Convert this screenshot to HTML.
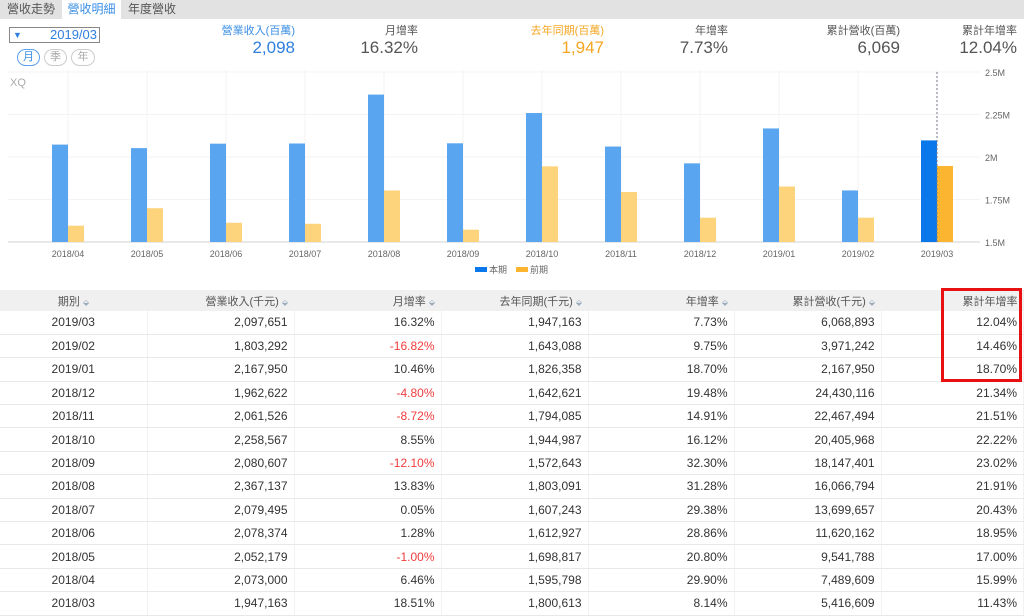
<!DOCTYPE html>
<html><head><meta charset="utf-8">
<style>
*{margin:0;padding:0;box-sizing:border-box}
body{width:1024px;height:610px;overflow:hidden;background:#fff;font-family:"Liberation Sans","Noto Sans CJK TC",sans-serif;color:#444;position:relative}
.abs{position:absolute}
.tabs{left:0;top:0;width:1024px;height:19px;background:#e2e2e2}
.tab{top:0;height:19px;font-size:12px;line-height:19px;color:#555;text-align:center}
.sum{text-align:right}
.sum .l{font-size:11px;color:#555}
.sum .v{font-size:17px;color:#555;line-height:20px}
table{position:absolute;left:0;top:290px;width:1024px;border-collapse:collapse;font-size:12px}
th{height:21px;background:#f0f0f0;font-weight:normal;color:#555;text-align:right;padding-right:6px;font-size:11px}
td{height:23.4px;text-align:right;padding-right:6px;border-bottom:1px solid #e8e8e8;border-right:1px solid #f2f2f2;color:#333}
td:first-child,th:first-child{text-align:center;padding-right:0}
.neg{color:#f03c3c}
.ar{color:#9ab;font-size:8px}
</style></head><body>
<div class="abs tabs"></div>
<div class="abs tab" style="left:0;width:62px">營收走勢</div>
<div class="abs tab" style="left:62px;width:59px;background:#fff;color:#3a8ee6">營收明細</div>
<div class="abs tab" style="left:121px;width:62px">年度營收</div>
<div class="abs" style="left:9px;top:27px;width:91px;height:16px;border:1px solid #888;font-size:13px;color:#2f7fe0;line-height:14px;text-align:right;padding-right:2px"><span style="position:absolute;left:3px;font-size:9px">▼</span>2019/03</div>
<div class="abs" style="left:17px;top:49px;width:23px;height:17px;border:1px solid #5aa0ee;border-radius:9px;font-size:11px;text-align:center;line-height:15px;color:#3a8ee6">月</div>
<div class="abs" style="left:44px;top:49px;width:23px;height:17px;border:1px solid #ccc;border-radius:9px;font-size:11px;text-align:center;line-height:15px;color:#aaa">季</div>
<div class="abs" style="left:71px;top:49px;width:24px;height:17px;border:1px solid #ccc;border-radius:9px;font-size:11px;text-align:center;line-height:15px;color:#aaa">年</div>

<div class="abs sum" style="left:195px;top:22px;width:100px"><div class="l" style="color:#3a8ee6">營業收入(百萬)</div><div class="v" style="color:#2f7fe0">2,098</div></div>
<div class="abs sum" style="left:318px;top:22px;width:100px"><div class="l">月增率</div><div class="v">16.32%</div></div>
<div class="abs sum" style="left:504px;top:22px;width:100px"><div class="l" style="color:#f5a623">去年同期(百萬)</div><div class="v" style="color:#f5a623">1,947</div></div>
<div class="abs sum" style="left:628px;top:22px;width:100px"><div class="l">年增率</div><div class="v">7.73%</div></div>
<div class="abs sum" style="left:800px;top:22px;width:100px"><div class="l">累計營收(百萬)</div><div class="v">6,069</div></div>
<div class="abs sum" style="left:917px;top:22px;width:100px"><div class="l">累計年增率</div><div class="v">12.04%</div></div>

<svg class="abs" style="left:0;top:60px" width="1024" height="225" id="chart"></svg>

<table>
<tr><th style="width:147px">期別 <span class="ar">⬙</span></th><th style="width:147px">營業收入(千元) <span class="ar">⬙</span></th><th style="width:147px">月增率 <span class="ar">⬙</span></th><th style="width:147px">去年同期(千元) <span class="ar">⬙</span></th><th style="width:146px">年增率 <span class="ar">⬙</span></th><th style="width:147px">累計營收(千元) <span class="ar">⬙</span></th><th>累計年增率</th></tr>
<tbody id="tb"></tbody>
</table>
<div class="abs" style="left:941px;top:288px;width:81px;height:94px;border:3px solid #e81010"></div>

<script>
const months=["2019/03","2019/02","2019/01","2018/12","2018/11","2018/10","2018/09","2018/08","2018/07","2018/06","2018/05","2018/04","2018/03"];
const revenue=[2097651,1803292,2167950,1962622,2061526,2258567,2080607,2367137,2079495,2078374,2052179,2073000,1947163];
const mom=["16.32%","-16.82%","10.46%","-4.80%","-8.72%","8.55%","-12.10%","13.83%","0.05%","1.28%","-1.00%","6.46%","18.51%"];
const lastYear=[1947163,1643088,1826358,1642621,1794085,1944987,1572643,1803091,1607243,1612927,1698817,1595798,1800613];
const yoy=["7.73%","9.75%","18.70%","19.48%","14.91%","16.12%","32.30%","31.28%","29.38%","28.86%","20.80%","29.90%","8.14%"];
const cumulative=[6068893,3971242,2167950,24430116,22467494,20405968,18147401,16066794,13699657,11620162,9541788,7489609,5416609];
const cumYoy=["12.04%","14.46%","18.70%","21.34%","21.51%","22.22%","23.02%","21.91%","20.43%","18.95%","17.00%","15.99%","11.43%"];
const yTicks=[1500000,1750000,2000000,2250000,2500000];
const yTickLabels=["1.5M","1.75M","2M","2.25M","2.5M"];

const fmt=n=>n.toLocaleString('en-US');
const tb=document.getElementById('tb');
months.forEach((m,i)=>{
 const tr=document.createElement('tr');
 
 
 const cells=[m,fmt(revenue[i]),mom[i],fmt(lastYear[i]),yoy[i],fmt(cumulative[i]),cumYoy[i]];
 cells.forEach((c,j)=>{const td=document.createElement('td');td.textContent=c;if(j==2&&c[0]=='-')td.className='neg';tr.appendChild(td);});
 tb.appendChild(tr);
});

const svg=document.getElementById('chart');const NS='http://www.w3.org/2000/svg';
function el(t,a,txt){const e=document.createElementNS(NS,t);for(const k in a)e.setAttribute(k,a[k]);if(txt!=null)e.textContent=txt;svg.appendChild(e);return e;}
const y=v=>182-(v-1500000)/1000000*170;
const x=i=>68+i*79;
const n=12;
for(let i=0;i<n;i++){const gx=x(i);const l=el('line',{x1:gx,x2:gx,y1:10,y2:182,stroke:'#f3f3f3'});}
yTicks.forEach((t,k)=>{
 const l=el('line',{x1:8,x2:980,y1:y(t),y2:y(t),stroke:k==0?'#d0d0d0':'#f3f3f3'});
 
 const tx=el('text',{x:985,y:y(t)+4,'font-size':9,fill:'#666'},yTickLabels[k]);
 
});
const xq=el('text',{x:10,y:26,'font-size':11,fill:'#aaa'},'XQ');

for(let i=0;i<n;i++){
 const d=n-1-i;const last=i==n-1;
 const b=el('rect',{x:x(i)-16,y:y(revenue[d]),width:16,height:182-y(revenue[d]),fill:last?'#0a78ea':'#5aa5f0'});
 
 const o=el('rect',{x:x(i),y:y(lastYear[d]),width:16,height:182-y(lastYear[d]),fill:last?'#fbb531':'#fdd37c'});
 
 const t=el('text',{x:x(i),y:197,'font-size':9,fill:'#666','text-anchor':'middle'},months[d]);
 
}
const cl=el('line',{x1:x(n-1),x2:x(n-1),y1:12,y2:182,stroke:'#778','stroke-dasharray':'2,2'});

const l1=el('rect',{x:475,y:207,width:12,height:5,fill:'#0a78ea'});
const l1t=el('text',{x:489,y:213,'font-size':9,fill:'#666'},'本期');
const l2=el('rect',{x:516,y:207,width:12,height:5,fill:'#fbb531'});
const l2t=el('text',{x:530,y:213,'font-size':9,fill:'#666'},'前期');
</script>
</body></html>
